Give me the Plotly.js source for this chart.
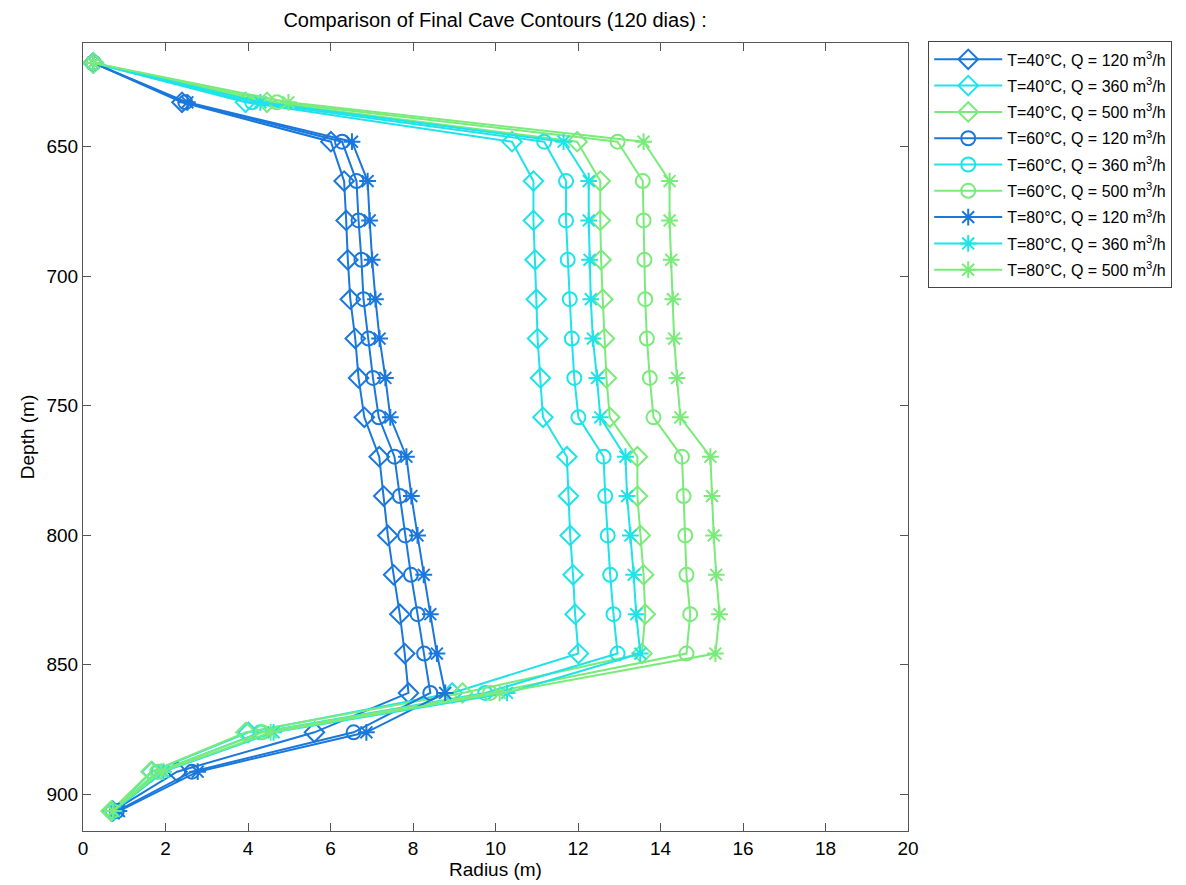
<!DOCTYPE html>
<html>
<head>
<meta charset="utf-8">
<script src="https://cdn.plot.ly/plotly-3.0.1.min.js"></script>
<style>html,body{margin:0;padding:0;background:#fff;}#chart{width:1186px;height:885px;}</style>
</head>
<body>
<div id="chart"></div>
<script>
// Depth of contour points (m)
const depth = [617.7, 632.9, 648.1, 663.3, 678.5, 693.7, 708.9, 724.1, 739.3, 754.5,
               769.7, 784.9, 800.1, 815.3, 830.5, 845.7, 860.9, 876.1, 891.3, 906.5];

// Radius (m) per case
const r_T40_Q120 = [0.25, 2.40, 6.01, 6.33, 6.38, 6.42, 6.48, 6.60, 6.68, 6.82, 7.18, 7.29, 7.39, 7.53, 7.68, 7.80, 7.89, 5.61, 2.28, 0.72];
const r_T40_Q360 = [0.25, 3.94, 10.40, 10.92, 10.92, 10.96, 10.99, 11.02, 11.09, 11.15, 11.73, 11.77, 11.81, 11.88, 11.93, 12.01, 8.95, 4.01, 1.67, 0.70];
const r_T40_Q500 = [0.25, 4.46, 11.98, 12.54, 12.54, 12.56, 12.60, 12.64, 12.69, 12.77, 13.44, 13.44, 13.51, 13.59, 13.63, 13.55, 9.20, 3.95, 1.65, 0.68];
const r_T60_Q120 = [0.25, 2.48, 6.28, 6.63, 6.68, 6.75, 6.80, 6.92, 7.03, 7.17, 7.55, 7.68, 7.81, 7.95, 8.11, 8.27, 8.42, 6.56, 2.64, 0.82];
const r_T60_Q360 = [0.25, 4.10, 11.18, 11.71, 11.71, 11.75, 11.80, 11.85, 11.91, 12.01, 12.62, 12.66, 12.72, 12.78, 12.86, 12.96, 9.75, 4.30, 1.83, 0.72];
const r_T60_Q500 = [0.25, 4.70, 12.96, 13.57, 13.59, 13.61, 13.63, 13.67, 13.74, 13.83, 14.52, 14.56, 14.60, 14.63, 14.72, 14.63, 9.87, 4.35, 1.80, 0.70];
const r_T80_Q120 = [0.25, 2.53, 6.52, 6.90, 6.95, 7.01, 7.09, 7.19, 7.33, 7.45, 7.84, 7.96, 8.11, 8.26, 8.42, 8.58, 8.78, 6.87, 2.78, 0.87];
const r_T80_Q360 = [0.25, 4.30, 11.65, 12.26, 12.26, 12.28, 12.31, 12.36, 12.46, 12.54, 13.15, 13.19, 13.27, 13.35, 13.41, 13.51, 10.28, 4.62, 1.95, 0.75];
const r_T80_Q500 = [0.25, 4.98, 13.59, 14.22, 14.22, 14.26, 14.30, 14.33, 14.40, 14.48, 15.21, 15.25, 15.29, 15.35, 15.43, 15.33, 10.10, 4.55, 1.90, 0.72];

const seriesNames = [
  'T=40°C, Q = 120 m<sup>3</sup>/h', 'T=40°C, Q = 360 m<sup>3</sup>/h', 'T=40°C, Q = 500 m<sup>3</sup>/h',
  'T=60°C, Q = 120 m<sup>3</sup>/h', 'T=60°C, Q = 360 m<sup>3</sup>/h', 'T=60°C, Q = 500 m<sup>3</sup>/h',
  'T=80°C, Q = 120 m<sup>3</sup>/h', 'T=80°C, Q = 360 m<sup>3</sup>/h', 'T=80°C, Q = 500 m<sup>3</sup>/h'
];
const seriesData = [r_T40_Q120, r_T40_Q360, r_T40_Q500, r_T60_Q120, r_T60_Q360, r_T60_Q500, r_T80_Q120, r_T80_Q360, r_T80_Q500];

const colors = ['#1a78dc', '#1ee3e8', '#7aeb7a'];
const symbols = ['diamond-open', 'circle-open', 'asterisk-open'];
const sizes = [15, 14, 14];

const traces = seriesData.map((r, i) => {
  const c = colors[i % 3];
  const t = Math.floor(i / 3);
  return {
    x: r, y: depth, name: seriesNames[i], type: 'scatter', mode: 'lines+markers',
    legendgroup: 'g' + i,
    line: {color: c, width: 2},
    marker: {symbol: symbols[t], size: sizes[t], color: c, line: {color: c, width: 2}}
  };
});

const layout = {
  width: 1186, height: 885,
  margin: {l: 83, r: 278, t: 43, b: 54, autoexpand: false},
  paper_bgcolor: '#ffffff', plot_bgcolor: '#ffffff',
  font: {family: 'Liberation Sans, Arial, sans-serif', color: '#000'},
  title: {text: 'Comparison of Final Cave Contours (120 dias) :', font: {size: 20, color: '#000'}, x: 0.4175, xanchor: 'center', y: 0.977, yanchor: 'middle'},
  xaxis: {
    range: [0, 20], tickvals: [0,2,4,6,8,10,12,14,16,18,20],
    ticks: 'inside', ticklen: 8, tickcolor: '#555', tickwidth: 1,
    showline: true, linecolor: '#555', linewidth: 1, mirror: 'ticks',
    showgrid: false, zeroline: false,
    tickfont: {size: 19},
    title: {text: 'Radius (m)', font: {size: 19}, standoff: 4}
  },
  yaxis: {
    range: [914.2, 610], tickvals: [650, 700, 750, 800, 850, 900],
    ticks: 'inside', ticklen: 8, tickcolor: '#555', tickwidth: 1,
    showline: true, linecolor: '#555', linewidth: 1, mirror: 'ticks',
    showgrid: false, zeroline: false,
    tickfont: {size: 19},
    title: {text: 'Depth (m)', font: {size: 19}, standoff: 6}
  },
  showlegend: true,
  legend: {
    x: 1.0245, xanchor: 'left', y: 1.002, yanchor: 'top',
    bordercolor: '#444', borderwidth: 1, bgcolor: '#fff',
    font: {size: 16}, tracegroupgap: 2.5, itemwidth: 68
  }
};

Plotly.newPlot('chart', traces, layout, {displayModeBar: false, staticPlot: true});
</script>
</body>
</html>
